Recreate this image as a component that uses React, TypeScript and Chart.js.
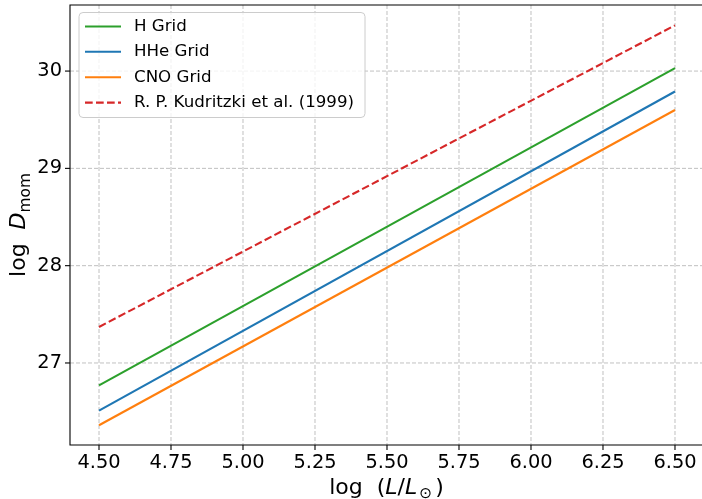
import { useEffect, useRef } from "react";
import { Chart, registerables } from "chart.js";

Chart.register(...registerables);

const xValues = [4.5, 6.5];
const hGrid = [26.77, 30.03];
const hheGrid = [26.51, 29.79];
const cnoGrid = [26.36, 29.6];
const kudritzki = [27.37, 30.47];
const xTicks = [4.5, 4.75, 5.0, 5.25, 5.5, 5.75, 6.0, 6.25, 6.5];
const yTicks = [27, 28, 29, 30];
const seriesLabels = ["H Grid", "HHe Grid", "CNO Grid", "R. P. Kudritzki et al. (1999)"];
const seriesColors = ["#2ca02c", "#1f77b4", "#ff7f0e", "#d62728"];

const FONT = '"DejaVu Sans"';

type Seg = { t: string; italic?: boolean; scale?: number; dy?: number; gap?: number };

function drawRich(ctx: CanvasRenderingContext2D, segs: Seg[], cx: number, base: number, size: number) {
  const widths = segs.map((s) => {
    if (s.gap !== undefined) return s.gap;
    ctx.font = `${s.italic ? "italic " : ""}${size * (s.scale || 1)}px ${FONT}`;
    return ctx.measureText(s.t).width;
  });
  const total = widths.reduce((a, b) => a + b, 0);
  let x = cx - total / 2;
  ctx.textBaseline = "alphabetic";
  ctx.textAlign = "left";
  segs.forEach((s, i) => {
    if (s.gap === undefined) {
      ctx.font = `${s.italic ? "italic " : ""}${size * (s.scale || 1)}px ${FONT}`;
      ctx.fillText(s.t, x, base + (s.dy || 0));
    }
    x += widths[i];
  });
}

const customPlugin = {
  id: "custom",
  beforeDatasetsDraw(chart: any) {
    const { ctx, chartArea: a, scales } = chart;
    const xs = scales.x;
    const ys = scales.y;
    ctx.save();
    ctx.strokeStyle = "#b0b0b0";
    ctx.lineWidth = 0.8;
    ctx.setLineDash([4, 2]);
    xTicks.forEach((v) => {
      const px = xs.getPixelForValue(v);
      ctx.beginPath();
      ctx.moveTo(px, a.top);
      ctx.lineTo(px, a.bottom);
      ctx.stroke();
    });
    yTicks.forEach((v) => {
      const py = ys.getPixelForValue(v);
      ctx.beginPath();
      ctx.moveTo(a.left, py);
      ctx.lineTo(a.right, py);
      ctx.stroke();
    });
    ctx.restore();
  },
  afterDatasetsDraw(chart: any) {
    const { ctx, chartArea: a, scales } = chart;
    const xs = scales.x;
    const ys = scales.y;
    ctx.save();
    // spines (right spine lies just beyond the visible frame)
    ctx.setLineDash([]);
    ctx.strokeStyle = "#000";
    ctx.lineWidth = 1.1;
    ctx.beginPath();
    ctx.moveTo(a.right + 2, a.top);
    ctx.lineTo(a.left, a.top);
    ctx.lineTo(a.left, a.bottom);
    ctx.lineTo(a.right + 2, a.bottom);
    ctx.stroke();
    // tick marks
    xTicks.forEach((v) => {
      const px = xs.getPixelForValue(v);
      ctx.beginPath();
      ctx.moveTo(px, a.bottom);
      ctx.lineTo(px, a.bottom + 5);
      ctx.stroke();
    });
    yTicks.forEach((v) => {
      const py = ys.getPixelForValue(v);
      ctx.beginPath();
      ctx.moveTo(a.left, py);
      ctx.lineTo(a.left - 5, py);
      ctx.stroke();
    });

    // legend
    const lx = 79, ly = 12.5, lw = 286, lh = 105;
    ctx.beginPath();
    (ctx as any).roundRect(lx, ly, lw, lh, 4);
    ctx.fillStyle = "rgba(255,255,255,0.8)";
    ctx.fill();
    ctx.strokeStyle = "#cccccc";
    ctx.lineWidth = 1;
    ctx.stroke();
    const rows = [26.5, 51.8, 77.2, 102.6];
    chart.data.datasets.forEach((ds: any, i: number) => {
      const yy = rows[i];
      ctx.strokeStyle = ds.borderColor;
      ctx.lineWidth = 2.1;
      ctx.setLineDash(ds.borderDash || []);
      ctx.beginPath();
      ctx.moveTo(85, yy);
      ctx.lineTo(121, yy);
      ctx.stroke();
      ctx.setLineDash([]);
      ctx.fillStyle = "#000";
      ctx.font = `16.67px ${FONT}`;
      ctx.textBaseline = "middle";
      ctx.textAlign = "left";
      ctx.fillText(ds.label, 134, yy);
    });

    // axis titles
    ctx.fillStyle = "#000";
    drawRich(
      ctx,
      [
        { t: "log" },
        { t: "", gap: 14 },
        { t: "(" },
        { t: "L", italic: true },
        { t: "/" },
        { t: "L", italic: true },
        { t: "", gap: 2 },
        { t: "\u2299", scale: 0.7, dy: 4 },
        { t: "", gap: 3 },
        { t: ")" },
      ],
      386.5,
      494,
      22
    );
    ctx.save();
    ctx.translate(24.5, 225);
    ctx.rotate(-Math.PI / 2);
    drawRich(
      ctx,
      [
        { t: "log" },
        { t: "", gap: 14 },
        { t: "D", italic: true },
        { t: "mom", scale: 0.7, dy: 5 },
      ],
      0,
      0,
      22
    );
    ctx.restore();
    ctx.restore();
  },
};

export default function App() {
  const ref = useRef<HTMLCanvasElement>(null);
  useEffect(() => {
    if (!ref.current) return;
    const mk = (vals: number[]) => xValues.map((x, i) => ({ x, y: vals[i] }));
    const chart = new Chart(ref.current, {
      type: "line",
      data: {
        datasets: [
          { label: seriesLabels[0], data: mk(hGrid), borderColor: seriesColors[0], borderWidth: 2.1, pointRadius: 0 },
          { label: seriesLabels[1], data: mk(hheGrid), borderColor: seriesColors[1], borderWidth: 2.1, pointRadius: 0 },
          { label: seriesLabels[2], data: mk(cnoGrid), borderColor: seriesColors[2], borderWidth: 2.1, pointRadius: 0 },
          {
            label: seriesLabels[3],
            data: mk(kudritzki),
            borderColor: seriesColors[3],
            borderWidth: 2.1,
            pointRadius: 0,
            borderDash: [7.7, 3.3],
          },
        ],
      },
      options: {
        responsive: false,
        animation: false,
        devicePixelRatio: 1,
        layout: { padding: { top: 5, right: 0, left: 0, bottom: 0 } },
        plugins: { legend: { display: false }, tooltip: { enabled: false } },
        scales: {
          x: {
            type: "linear",
            min: 4.3993,
            max: 6.5938,
            afterBuildTicks: (s: any) => {
              s.ticks = xTicks.map((value) => ({ value }));
            },
            afterFit: (s: any) => {
              s.height = 54;
              s.paddingLeft = 0;
              s.paddingRight = 0;
            },
            ticks: {
              callback: (v: any) => Number(v).toFixed(2),
              font: { family: "DejaVu Sans", size: 19.4 },
              color: "#000",
              padding: 1,
              maxRotation: 0,
              autoSkip: false,
            },
            grid: { display: false, drawTicks: true, tickLength: 5 },
            border: { display: false },
          },
          y: {
            type: "linear",
            min: 26.157,
            max: 30.679,
            afterBuildTicks: (s: any) => {
              s.ticks = yTicks.map((value) => ({ value }));
            },
            afterFit: (s: any) => {
              s.width = 70;
              s.paddingTop = 0;
              s.paddingBottom = 0;
            },
            ticks: {
              callback: (v: any) => String(v),
              font: { family: "DejaVu Sans", size: 19.4 },
              color: "#000",
              padding: 3,
              autoSkip: false,
            },
            grid: { display: false, drawTicks: true, tickLength: 5 },
            border: { display: false },
          },
        },
      },
      plugins: [customPlugin],
    });
    return () => chart.destroy();
  }, []);
  return (
    <div style={{ position: "fixed", left: 0, top: 0, width: 702, height: 499, background: "#fff" }}>
      <canvas ref={ref} width={702} height={499} style={{ display: "block" }} />
    </div>
  );
}
